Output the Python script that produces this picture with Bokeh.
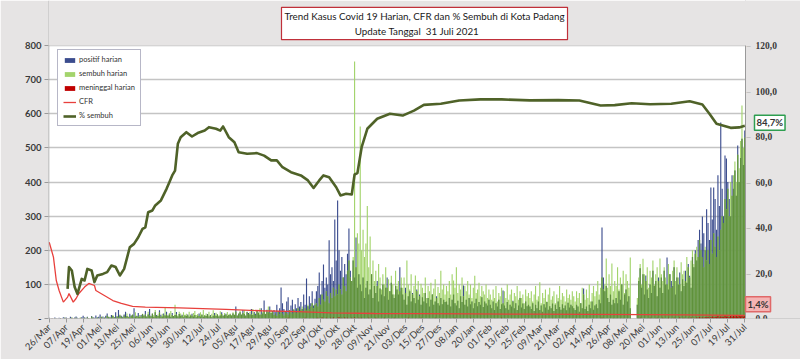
import numpy as np
from bokeh.plotting import figure
from bokeh.models import (Range1d, FixedTicker, CustomJSTickFormatter, Legend, LegendItem,
                          Label, LabelSet, ColumnDataSource, BoxAnnotation, Span)
from bokeh.embed import file_html
from bokeh.resources import INLINE
from math import pi

# ---------------- data ----------------
judul_1 = "Trend Kasus Covid 19 Harian, CFR dan % Sembuh di Kota Padang"
judul_2 = "Update Tanggal\u00a0\u00a031 Juli 2021"

tick_labels = ["26/Mar", "07/Apr", "19/Apr", "01/Mei", "13/Mei", "25/Mei", "06/Jun", "18/Jun",
               "30/Jun", "12/Jul", "24/Jul", "05/Agu", "17/Agu", "29/Agu", "10/Sep", "22/Sep",
               "04/Okt", "16/Okt", "28/Okt", "09/Nov", "21/Nov", "03/Des", "15/Des", "27/Des",
               "08/Jan", "20/Jan", "01/Feb", "13/Feb", "25/Feb", "09/Mar", "21/Mar", "02/Apr",
               "14/Apr", "26/Apr", "08/Mei", "20/Mei", "01/Jun", "13/Jun", "25/Jun", "07/Jul",
               "19/Jul", "31/Jul"]
tick_step_hari = 12
pct_ticks = [0, 20, 40, 60, 80, 100, 120]
kasus_ticks = [0, 100, 200, 300, 400, 500, 600, 700, 800]

# daily new positive cases, 26 Mar 2020 .. 31 Jul 2021
positif = [
    2,0,1,0,3,1,
    0,2,1,0,4,2,3,0,1,5, 2,0,3,6,2,1,0,4,8,3, 2,5,1,0,7,4,2,9,3,5,
    12,4,6,2,8,15,5,3,10,7, 4,18,6,25,9,8,5,12,20,7, 4,14,9,11,30,6,8,16,5,10, 13,
    9,22,6,12,28,8,14,5,18,10, 7,24,11,6,15,9,20,8,12,5, 16,7,10,19,6,13,8,11,4,9,
    7,12,5,9,14,6,10,4,8,15, 6,11,5,9,7,13,6,10,4,8, 16,7,12,6,9,18,8,11,14,7, 10,
    12,8,15,10,35,9,14,18,11,25, 13,8,20,16,12,28,10,19,14,24, 17,11,30,15,53,13,26,18,35,16, 22,
    25,18,40,22,30,91,45,28,20,50, 62,24,38,55,26,42,30,60,35,48, 28,70,40,117,36,65,45,80,38,58,
    80,95,135,70,110,158,90,120,100,229, 130,150,110,290,170,346,200,140,180,120, 160,130,190,264,140,110,170,120,237,90, 130,
    100,80,120,60,90,110,70,85,130,60, 95,75,110,50,88,70,100,65,90,120, 55,80,105,70,60,95,85,70,150,90,
    70,55,90,40,65,80,50,75,60,45, 85,55,70,40,62,50,75,45,60,35, 55,70,40,50,65,45,38,60,42,55, 48,
    50,40,60,35,55,70,45,38,52,30, 65,48,97,40,55,35,60,42,50,30, 45,58,36,48,40,62,34,50,44,38, 55,
    40,30,50,25,45,35,55,28,42,82, 38,30,48,26,40,35,52,30,45,25, 38,60,32,44,28,50,36,40,
    35,28,45,22,40,30,50,25,38,20, 42,32,48,26,36,30,44,22,40,28, 50,34,26,42,30,38,24,46,32,40, 36,
    30,25,40,35,20,45,30,88,28,35, 22,40,30,50,26,38,42,30,55,45, 267,120,80,95,60,48,70,40,55,45,
    60,45,80,55,100,40,70,85,50,65, 30,0,0,0,0,40,110,147,90,130, 70,126,85,60,100,75,140,95,110,65, 120,
    90,120,75,140,100,179,85,130,110,95, 150,70,120,100,135,80,115,95,140,105, 160,125,90,180,150,200,170,230,260,220,
    299,250,200,320,280,230,384,290,384,350, 260,420,330,574,380,300,478,469,400,350, 300,420,380,434,360,507,400,470,527,450, 551,
]

# daily recoveries
sembuh = [
    0,0,0,0,1,0,
    0,0,1,0,0,2,0,1,0,0, 3,0,1,2,0,0,4,1,0,2, 0,3,1,0,5,2,0,1,3,0,
    2,6,1,4,0,8,3,5,2,10, 4,1,7,3,12,5,2,9,4,15, 6,3,8,11,4,18,7,5,10,6, 14,
    8,12,5,20,9,6,15,10,25,7, 12,18,6,14,9,33,11,8,16,22, 10,7,40,12,9,20,15,8,18,11,
    14,9,20,12,8,16,22,10,13,7, 18,12,25,9,15,11,20,8,14,24, 10,17,12,9,21,13,8,16,11,19, 12,
    15,10,18,12,20,8,14,22,11,16, 25,9,18,13,20,12,28,15,10,22, 17,30,12,19,24,14,20,35,16,26, 18,
    10,15,8,20,12,18,14,9,22,16, 12,25,18,14,28,20,16,30,22,26, 35,20,30,25,40,28,35,45,30,40,
    45,35,60,40,70,55,50,80,65,45, 75,60,90,65,85,70,100,85,70,120, 95,80,140,170,120,110,180,753,150,250, 220,
    563,200,260,180,220,330,150,240,130,170, 110,140,95,160,120,85,130,100,150,90, 115,80,125,100,70,140,95,110,80,120,
    90,120,75,170,100,85,130,70,95,126, 80,110,65,102,90,75,120,60,95,80, 105,70,88,115,60,92,75,140,85,100, 70,
    95,80,110,70,130,111,90,150,75,100, 85,120,65,95,80,110,70,100,60,90, 125,75,85,105,65,95,80,70,100,60, 85,
    70,55,85,60,95,50,75,65,90,45, 80,60,100,55,70,85,50,75,65,95, 55,80,60,70,45,85,65,75,
    60,80,50,70,95,55,65,106,45,75, 60,85,50,70,90,55,65,80,45,70, 60,95,55,75,65,50,85,60,70,55, 80,
    65,50,80,60,75,45,90,70,55,85, 60,100,50,75,95,65,80,110,70,90, 120,85,100,176,90,130,95,161,80,110,
    95,150,85,120,100,140,75,130,110,90, 179,0,0,0,0,60,120,160,100,175, 130,110,150,90,140,120,170,100,130,150, 110,
    176,130,110,150,120,100,160,130,90,140, 170,110,150,120,100,165,130,140,110,180, 150,120,170,200,160,190,210,180,230,200,
    180,150,210,170,200,160,230,190,250,210, 180,240,200,260,300,280,350,320,380,300, 400,360,420,460,400,480,440,520,624,500, 530,
]

# daily deaths
meninggal = [
    0,0,1,0,0,0,
    0,0,1,0,0,0,1,0,0,0, 0,1,0,0,0,0,1,0,0,0, 0,0,1,0,0,0,0,0,0,0,
    0,0,0,1,0,0,0,0,0,0, 0,0,1,0,0,0,0,0,0,0, 0,1,0,0,0,0,0,0,0,0, 0,
    0,0,0,0,0,0,1,0,0,0, 0,0,0,0,0,0,0,0,0,0, 0,0,0,0,0,1,0,0,0,0,
    0,0,0,0,0,0,0,0,0,0, 0,0,0,1,0,0,0,0,0,0, 0,0,0,0,0,0,0,0,0,0, 0,
    0,0,1,0,0,0,0,0,1,0, 0,0,0,0,0,1,0,0,0,0, 0,1,0,0,0,0,0,0,1,0, 0,
    1,0,0,1,0,0,0,1,0,0, 2,0,0,1,0,0,0,1,0,0, 1,0,2,0,0,1,0,0,1,0,
    1,2,0,1,3,1,0,2,1,0, 2,1,3,0,1,2,4,1,2,0, 3,1,2,1,0,2,1,3,1,0, 2,
    1,2,0,1,1,0,2,1,0,1, 0,2,1,0,1,1,0,2,0,1, 0,1,1,0,2,0,1,0,1,0,
    1,0,1,0,2,0,1,0,0,1, 0,1,0,2,0,1,0,0,1,0, 1,0,0,2,0,1,0,0,1,0, 0,
    1,0,0,1,0,0,2,0,1,0, 0,1,0,0,0,1,0,2,0,0, 1,0,0,0,1,0,0,1,0,0, 1,
    0,1,0,0,1,0,0,0,2,0, 0,1,0,0,0,1,0,0,0,1, 0,0,1,0,0,0,1,0,
    0,0,1,0,0,0,1,0,0,0, 0,1,0,0,0,0,1,0,0,0, 1,0,0,0,0,1,0,0,0,0, 1,
    0,1,0,0,0,1,0,0,0,0, 1,0,0,0,1,0,0,0,0,1, 2,0,1,0,0,1,0,0,1,0,
    1,0,0,1,0,1,0,0,1,0, 1,0,0,0,0,0,1,2,0,1, 0,1,1,0,2,0,1,0,1,2, 0,
    1,0,2,1,0,1,2,0,1,0, 2,1,0,1,3,0,1,2,0,1, 2,1,3,0,2,1,3,2,4,2,
    3,2,4,3,5,2,4,6,3,5, 4,7,3,6,5,4,8,5,6,4, 7,5,8,6,9,5,7,6,8,5, 7,
]

# CFR (%) - day index since 26 Mar 2020, value
cfr_hari = [0, 3, 5, 7, 10, 13, 14, 17, 19, 21, 25, 28, 32, 33, 39, 45, 51, 59, 68, 92,
            125, 150, 175, 200, 230, 260, 300, 340, 380, 420, 450, 470, 492]
cfr_nilai = [33.5, 27.0, 16.7, 12.3, 7.2, 9.4, 11.0, 7.2, 8.8, 11.0, 13.8, 15.4, 14.5, 12.3,
             10.1, 7.9, 6.6, 5.3, 5.0, 4.7, 4.0, 3.4, 3.0, 2.5, 2.2, 2.1, 2.0, 1.9, 1.8, 1.7,
             1.6, 1.5, 1.4]

# % sembuh - day index since 26 Mar 2020, value
pct_hari = [13, 14, 16, 18, 20, 23, 25, 27, 30, 32, 34, 38, 41, 44, 47, 50, 53, 57, 60, 63,
            66, 68, 70, 73, 75, 79, 83, 85, 87, 89, 91, 93, 97, 101, 105, 110, 113, 118, 121,
            123, 127, 131, 134, 140, 147, 152, 157, 161, 165, 171, 178, 183, 187, 191, 194,
            198, 203, 206, 210, 214, 216, 218, 221, 225, 232, 241, 250, 258, 265, 277, 290,
            305, 320, 340, 360, 375, 390, 400, 412, 425, 440, 453, 462, 467, 472, 482, 488, 492]
pct_nilai = [13.0, 22.6, 21.1, 13.8, 10.8, 17.4, 16.7, 21.8, 21.1, 16.0, 18.9, 19.6, 20.4,
             23.3, 22.6, 18.9, 21.8, 31.3, 32.8, 35.7, 39.4, 40.1, 46.7, 47.5, 49.7, 51.9,
             57.0, 59.9, 62.9, 65.0, 76.8, 79.7, 81.9, 80.0, 81.5, 82.6, 84.1, 83.4, 82.6,
             84.4, 79.7, 77.5, 73.1, 72.4, 72.7, 71.6, 69.5, 69.5, 66.5, 64.3, 62.9, 60.7,
             57.4, 60.7, 62.9, 62.1, 57.7, 54.1, 54.8, 54.5, 63.3, 63.9, 75.3, 83.4, 87.8,
             90.0, 89.2, 91.4, 93.9, 94.4, 95.8, 96.3, 96.3, 95.9, 96.0, 95.8, 93.6, 93.8,
             94.6, 94.2, 94.4, 95.5, 94.1, 90.0, 85.6, 83.8, 84.0, 84.7]

label_sembuh_akhir = "84,7%"
label_cfr_akhir = "1,4%"

# ---------------- layout constants (pixels) ----------------
FONT = "Lato"
TXT = "#3a3a3a"
BG = "#e6e4e4"
W, H = 800, 359
LEFT, PLOT_RIGHT, PLOT_TOP, PLOT_BOTTOM = 48, 745, 45, 318

n_hari = len(positif)
kasus_max, pct_max = 800, 120
px_per_hari = (PLOT_RIGHT - LEFT) / n_hari
x_end = -0.5 + (W - LEFT) / px_per_hari            # frame reaches the right edge
frame_h = PLOT_BOTTOM                               # frame reaches the top edge
y_end = kasus_max * frame_h / (PLOT_BOTTOM - PLOT_TOP)
pct_end = pct_max * frame_h / (PLOT_BOTTOM - PLOT_TOP)

p = figure(width=W, height=H, output_backend="svg", toolbar_location=None, title=None,
           x_range=Range1d(-0.5, x_end), y_range=Range1d(0, y_end),
           min_border_left=LEFT, min_border_right=0, min_border_top=0,
           min_border_bottom=H - PLOT_BOTTOM)
p.extra_y_ranges = {"pct": Range1d(0, pct_end)}
p.background_fill_color = "white"
p.border_fill_color = BG
p.outline_line_color = None

# bars
x_pos = np.arange(n_hari)
overlap = np.minimum(np.array(positif), np.array(sembuh))
r_pos = p.vbar(x=x_pos, top=positif, width=0.8, fill_color="#3b4c8e", line_color=None)
r_sem = p.vbar(x=x_pos, top=sembuh, width=0.8, fill_color="#a3d46c", line_color=None)
p.vbar(x=x_pos, top=overlap, width=0.8, fill_color="#5f913c", line_color=None)
r_men = p.vbar(x=x_pos, top=meninggal, width=0.8, fill_color="#c00000", line_color=None)
r_cfr = p.line(cfr_hari, cfr_nilai, y_range_name="pct", line_color="#e8403c", line_width=1.3)
r_pct = p.line(pct_hari, pct_nilai, y_range_name="pct", line_color="#4f6228", line_width=2.6,
               line_join="round")

# left / bottom axes
p.yaxis.ticker = FixedTicker(ticks=kasus_ticks)
p.yaxis.formatter = CustomJSTickFormatter(code="return tick == 0 ? '-' : tick.toString();")
p.xaxis.ticker = FixedTicker(ticks=[i * tick_step_hari for i in range(len(tick_labels))])
p.xaxis.major_label_overrides = {i * tick_step_hari: t for i, t in enumerate(tick_labels)}
p.xaxis.major_label_orientation = pi / 4

for ax in [p.xaxis[0], p.yaxis[0]]:
    ax.axis_line_color = None
    ax.major_tick_line_color = "#9a9a9a"
    ax.major_tick_out = 4
    ax.major_tick_in = 0
    ax.minor_tick_line_color = None
    ax.major_label_text_font = FONT
    ax.major_label_text_color = TXT
    ax.major_label_text_font_style = "bold"
    ax.major_label_standoff = 3
p.yaxis[0].major_label_text_font_size = "9.5px"
p.xaxis[0].major_label_text_font_size = "9.5px"
p.xaxis[0].major_label_text_font_style = "normal"

p.xgrid.grid_line_color = None
p.ygrid.grid_line_color = "#c4c4c4"
p.ygrid.grid_line_width = 1.3

# axis lines, masks over the areas outside the plot area, right-hand scale
AX = "#9a9a9a"
p.add_layout(Span(location=0, dimension="width", line_color=AX, line_width=1))
p.add_layout(Span(location=-0.5, dimension="height", line_color=AX, line_width=1.5))
p.add_layout(BoxAnnotation(left=n_hari - 0.5, fill_color=BG, fill_alpha=1, line_color=None))
p.add_layout(Span(location=n_hari - 0.5, dimension="height", line_color=AX, line_width=1))
p.add_layout(BoxAnnotation(bottom=kasus_max, fill_color=BG, fill_alpha=1, line_color=None))

src_r = ColumnDataSource(dict(
    x=[n_hari - 0.5] * len(pct_ticks), y=pct_ticks,
    t=[f"{v:.1f}".replace(".", ",") for v in pct_ticks]))
p.add_layout(LabelSet(x="x", y="y", text="t", source=src_r, y_range_name="pct",
                      x_offset=10, text_baseline="middle", text_align="left",
                      text_font=FONT, text_font_size="9.5px", text_font_style="bold",
                      text_color=TXT))
src_tk = ColumnDataSource(dict(x=[n_hari - 0.5] * len(pct_ticks), y=pct_ticks,
                               t=["\u2013"] * len(pct_ticks)))
p.add_layout(LabelSet(x="x", y="y", text="t", source=src_tk, y_range_name="pct",
                      x_offset=1, text_baseline="middle", text_align="left",
                      text_font=FONT, text_font_size="8px", text_color=AX))

legend = Legend(items=[
    LegendItem(label="positif harian", renderers=[r_pos]),
    LegendItem(label="sembuh harian", renderers=[r_sem]),
    LegendItem(label="meninggal harian", renderers=[r_men]),
    LegendItem(label="CFR", renderers=[r_cfr]),
    LegendItem(label="% sembuh", renderers=[r_pct]),
], location=(9, 192))
legend.label_text_font = FONT
legend.label_text_font_size = "7.5px"
legend.label_text_color = "#333333"
legend.label_height = 8
legend.glyph_height = 6
legend.glyph_width = 13
legend.spacing = 5
legend.padding = 5
legend.margin = 0
legend.label_standoff = 3
legend.border_line_color = "#707090"
legend.border_line_width = 1
legend.background_fill_color = "white"
legend.background_fill_alpha = 1
p.add_layout(legend, "center")

lbl1 = Label(x=n_hari - 0.5, y=pct_nilai[-1], y_range_name="pct", text=label_sembuh_akhir,
             x_offset=9, y_offset=3, text_baseline="middle", text_align="left",
             text_font=FONT, text_font_size="9.5px", text_font_style="bold", text_color="#333333",
             background_fill_color="white", border_line_color="#2e9e50", border_line_width=1.5)
lbl2 = Label(x=n_hari - 0.5, y=cfr_nilai[-1], y_range_name="pct", text=label_cfr_akhir,
             x_offset=0, y_offset=11, text_baseline="middle", text_align="left",
             text_font=FONT, text_font_size="9.5px", text_font_style="bold", text_color="#333333",
             background_fill_color="#f4b4b4", border_line_color="#e06868", border_line_width=1.5)

# title box (second line centred with no-break spaces)
pad = "\u00a0" * 28
title_lbl = Label(x=281 - LEFT, y=PLOT_BOTTOM - 23, x_units="screen", y_units="screen",
                  text=judul_1 + "\n" + pad + judul_2, text_align="left",
                  text_baseline="middle", text_font=FONT, text_font_size="9.8px",
                  text_color="#1a1a1a", background_fill_color="white",
                  border_line_color="#c0303a", border_line_width=1.2)
for l in (lbl1, lbl2, title_lbl):
    try:
        l.padding = 2
    except Exception:
        pass
    p.add_layout(l)
try:
    title_lbl.padding = 3
except Exception:
    pass

html = file_html(p, INLINE)
html = html.replace("<body>", '<body style="background:#e6e4e4">', 1)
open("out.html", "w").write(html)
